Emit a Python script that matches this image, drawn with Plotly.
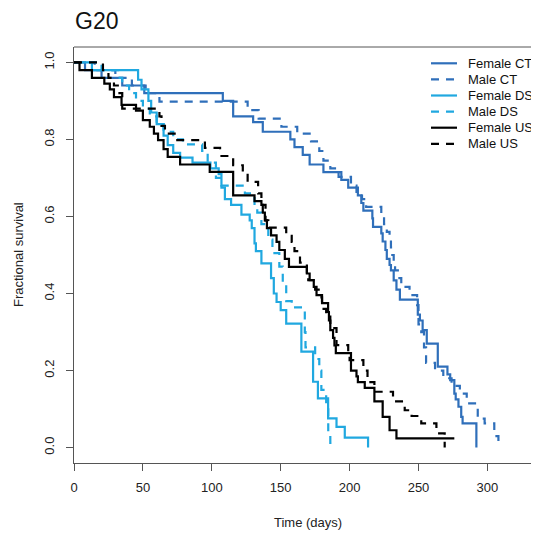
import plotly.graph_objects as go

# ---------------- data ----------------
female_ct_t = [0, 8, 20, 35, 51, 108, 115.5, 130, 137, 157, 160, 166, 171, 181, 194, 199, 206, 208.5, 210,
               216.5, 217, 223, 224, 226, 227, 229, 230, 232, 234, 236.5, 249.5, 251, 253, 256, 264, 271,
               273, 276, 277, 279, 281, 282, 292]
female_ct_s = [1.0, 0.98, 0.96, 0.94, 0.92, 0.90, 0.86, 0.845, 0.82, 0.80, 0.78, 0.76, 0.735, 0.715, 0.695,
               0.675, 0.655, 0.635, 0.615, 0.595, 0.573, 0.556, 0.535, 0.513, 0.49, 0.474, 0.46, 0.434, 0.41,
               0.384, 0.345, 0.33, 0.305, 0.27, 0.21, 0.19, 0.175, 0.14, 0.125, 0.106, 0.08, 0.063, 0.0]

male_ct_t = [0, 15, 30, 42, 52, 62, 126, 134, 150.5, 162, 172, 178, 181, 186, 192, 201, 205, 209, 212, 223,
             225, 227, 229, 230, 231, 232, 233, 235, 237.5, 243.5, 249, 250, 252, 254, 255.5, 262, 268, 274,
             280, 285, 293, 298, 305, 308]
male_ct_s = [1.0, 0.98, 0.96, 0.94, 0.92, 0.898, 0.876, 0.854, 0.833, 0.815, 0.795, 0.77, 0.745, 0.725, 0.703,
             0.68, 0.66, 0.645, 0.625, 0.60, 0.58, 0.56, 0.54, 0.52, 0.50, 0.48, 0.46, 0.44, 0.417, 0.396,
             0.37, 0.32, 0.30, 0.26, 0.22, 0.20, 0.18, 0.16, 0.14, 0.115, 0.075, 0.063, 0.03, 0.0]

female_ds_t = [0, 13, 46.5, 49, 54, 56, 60, 65, 68, 72, 77, 86, 99, 105, 107, 109.5, 114, 121.5, 127.5, 129,
               131, 132, 136, 143, 145, 147, 150, 154, 165, 173.5, 177, 184.4, 190.5, 196.5, 213.4]
female_ds_s = [1.0, 0.98, 0.955, 0.93, 0.90, 0.87, 0.84, 0.81, 0.785, 0.765, 0.753, 0.74, 0.725, 0.71, 0.675,
               0.645, 0.63, 0.605, 0.59, 0.57, 0.53, 0.51, 0.478, 0.44, 0.40, 0.378, 0.357, 0.322, 0.249,
               0.171, 0.128, 0.076, 0.054, 0.026, 0.0]

male_ds_t = [0, 20, 32, 35, 40, 45, 50, 55, 60, 65, 72, 79, 93, 97, 103, 107, 124, 131, 133, 136, 141, 144,
             149, 151.5, 154, 158, 167.5, 168, 175, 178, 179.5, 183, 184.5, 186, 188]
male_ds_s = [1.0, 0.98, 0.96, 0.94, 0.92, 0.90, 0.88, 0.86, 0.84, 0.82, 0.80, 0.787, 0.77, 0.74, 0.70, 0.68,
             0.66, 0.63, 0.61, 0.58, 0.54, 0.505, 0.47, 0.43, 0.38, 0.364, 0.30, 0.26, 0.23, 0.20, 0.15,
             0.11, 0.03, 0.012, 0.0]

female_us_t = [0, 4, 13, 22, 26, 29, 34.5, 45, 50, 55, 58, 61, 65, 68, 77, 98.5, 115.5, 131, 136, 137, 138.5,
               140, 143, 147, 149, 153, 156, 169, 171, 174, 176, 180, 184.4, 185, 186, 188, 189, 190, 201,
               205, 206, 211, 218, 224, 229, 234, 276]
female_us_s = [1.0, 0.98, 0.96, 0.945, 0.93, 0.91, 0.89, 0.875, 0.85, 0.833, 0.815, 0.798, 0.775, 0.755,
               0.735, 0.716, 0.655, 0.64, 0.63, 0.61, 0.59, 0.57, 0.551, 0.534, 0.513, 0.49, 0.469, 0.452,
               0.435, 0.417, 0.396, 0.375, 0.352, 0.33, 0.305, 0.285, 0.265, 0.245, 0.20, 0.185, 0.17,
               0.155, 0.12, 0.08, 0.045, 0.024, 0.024]

male_us_t = [0, 21, 25, 29, 33, 35, 62, 63.5, 66, 74, 95, 106, 115.5, 122.5, 126, 133.6, 136, 139, 141, 154,
             158, 160, 164, 169, 170, 175, 179.6, 180, 183, 186, 190.5, 199, 200, 210, 213, 218, 231.5, 240,
             245, 252, 263, 269]
male_us_s = [1.0, 0.98, 0.96, 0.94, 0.92, 0.88, 0.86, 0.835, 0.815, 0.798, 0.778, 0.757, 0.733, 0.716, 0.69,
             0.66, 0.63, 0.59, 0.571, 0.55, 0.534, 0.51, 0.48, 0.455, 0.435, 0.41, 0.39, 0.36, 0.34, 0.31,
             0.266, 0.245, 0.227, 0.20, 0.17, 0.145, 0.12, 0.097, 0.082, 0.063, 0.037, 0.0]

series_names = ["Female CT", "Male CT", "Female DS", "Male DS", "Female US", "Male US"]
x_ticks = [0, 50, 100, 150, 200, 250, 300]
y_ticks = [0.0, 0.2, 0.4, 0.6, 0.8, 1.0]

# ---------------- styling ----------------
BLUE = "#2F6FBA"
CYAN = "#20A8E0"
BLACK = "#000000"
DASH = "8px,7px"
series = [
    (female_ct_t, female_ct_s, BLUE, "solid"),
    (male_ct_t, male_ct_s, BLUE, DASH),
    (female_ds_t, female_ds_s, CYAN, "solid"),
    (male_ds_t, male_ds_s, CYAN, DASH),
    (female_us_t, female_us_s, BLACK, "solid"),
    (male_us_t, male_us_s, BLACK, DASH),
]

# the page body has an 8px margin, so the figure is drawn 8px smaller and
# all reference page coordinates are shifted by OFF
OFF = 8
W, H = 539 - OFF, 535 - OFF
PLOT_L, PLOT_T, PLOT_B = 74, 47, 463          # page coordinates in the reference
L, T = PLOT_L - OFF, PLOT_T - OFF
B = H - (PLOT_B - OFF)
R = 0
PW, PH = W - L - R, H - T - B
PX_PER_DAY = 1.378


def px_x(px):
    return (px - PLOT_L) / PW


def px_y(py):
    return (PLOT_B - py) / PH


fig = go.Figure()
for name, (t, s, col, dash) in zip(series_names, series):
    fig.add_trace(go.Scatter(x=t, y=s, mode="lines", name=name, line_shape="hv",
                             line=dict(color=col, width=2.2, dash=dash), showlegend=False))

FONT = "Liberation Sans, Arial, sans-serif"
TXT = "#222222"
AX = "#555555"

fig.update_layout(
    width=W, height=H,
    margin=dict(l=L, r=R, t=T, b=B, autoexpand=False),
    paper_bgcolor="white", plot_bgcolor="white",
    font=dict(family=FONT, size=13, color=TXT),
    title=dict(text="G20", x=(75 - OFF) / W, xanchor="left", xref="container",
               y=1 - (21 - OFF) / H, yanchor="middle", yref="container",
               font=dict(family=FONT, size=23, color="#111111")),
)
fig.update_xaxes(range=[0, PW / PX_PER_DAY], tickmode="array", tickvals=x_ticks,
                 ticktext=[str(v) for v in x_ticks], ticks="outside", ticklen=7, tickwidth=1,
                 tickcolor=AX, showline=True, linecolor=AX, linewidth=1, showgrid=False,
                 zeroline=False, ticklabelstandoff=5, tickfont=dict(size=13, color=TXT))
fig.update_yaxes(range=[-0.04, 1.04], tickmode="array", tickvals=y_ticks,
                 ticktext=[f"{v:.1f}" for v in y_ticks], ticks="outside", ticklen=7, tickwidth=1,
                 tickcolor=AX, showline=True, linecolor=AX, linewidth=1, showgrid=False,
                 zeroline=False, tickangle=-90, ticklabelstandoff=7, tickfont=dict(size=13, color=TXT))

# top border of the box
fig.add_shape(type="line", xref="paper", yref="paper", x0=0, x1=1, y0=1, y1=1,
              line=dict(color=AX, width=1))

# axis titles
fig.add_annotation(text="Time (days)", xref="paper", yref="paper", x=px_x(308), y=px_y(522),
                   showarrow=False, xanchor="center", yanchor="middle", font=dict(size=13, color=TXT))
fig.add_annotation(text="Fractional survival", xref="paper", yref="paper", x=px_x(18), y=px_y(255),
                   showarrow=False, textangle=-90, xanchor="center", yanchor="middle",
                   font=dict(size=13, color=TXT))

# legend (drawn manually to match the compact R legend)
leg_y0, leg_dy = 63.3, 16.1
for i, (name, (_, _, col, dash)) in enumerate(zip(series_names, series)):
    py = leg_y0 + i * leg_dy
    fig.add_shape(type="line", xref="paper", yref="paper", x0=px_x(431), x1=px_x(457),
                  y0=px_y(py), y1=px_y(py), line=dict(color=col, width=2.2, dash=dash))
    fig.add_annotation(text=name, xref="paper", yref="paper", x=px_x(466), y=px_y(py),
                       showarrow=False, xanchor="left", yanchor="middle",
                       font=dict(size=13, color="#111111"))

fig.write_html("out.html")
